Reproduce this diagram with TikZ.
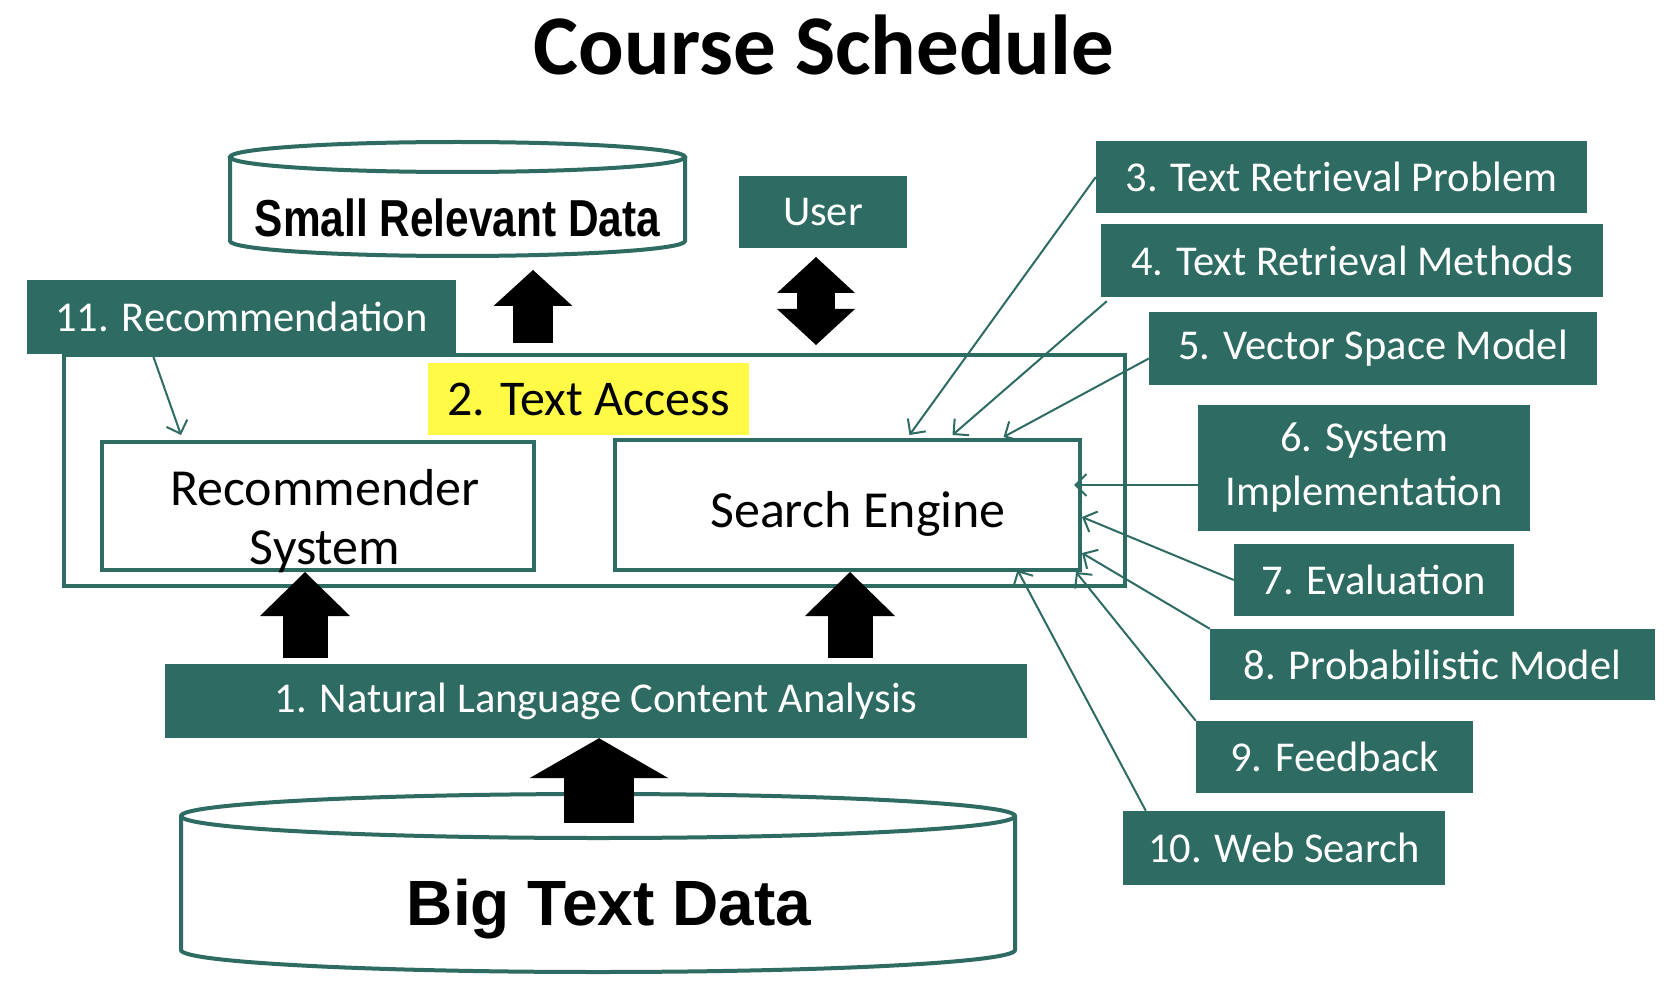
\documentclass[tikz,border=0pt]{standalone}
\usepackage{fontspec}
\setmainfont{Carlito}
\newfontfamily\cylfont[FakeStretch=0.815]{Liberation Sans}
\newfontfamily\bigfont{Liberation Sans}
\usepackage{xcolor}
\usetikzlibrary{arrows.meta}

\definecolor{slate}{RGB}{46,107,98}
\definecolor{marker}{RGB}{255,250,70}

\begin{document}
\begin{tikzpicture}[
  x=1pt, y=-1pt,
  box/.style={fill=slate, text=white, inner sep=0pt, align=center,
    font=\fontsize{42.5}{54}\selectfont},
  frame/.style={draw=slate, line width=4pt, fill=white},
  inner/.style={inner sep=0pt, font=\fontsize{52}{59}\selectfont},
  link/.style={draw=slate, line width=2pt, -{Straight Barb[length=11pt,width=22pt]}},
  fat/.style n args={3}{line width=#1pt,
    -{Triangle[length=#3pt,width=#2pt,line width=0pt]}},
  fatboth/.style n args={3}{line width=#1pt,
    {Triangle[length=#3pt,width=#2pt,line width=0pt]}-{Triangle[length=#3pt,width=#2pt,line width=0pt]}}
]
\fill[white] (0,0) rectangle (1672,981);
\useasboundingbox (0,0) rectangle (1672,981);

\node[anchor=base, font=\fontsize{85}{90}\selectfont\bfseries] (title) at (824,75) {Course Schedule};

% small data store
\draw[frame] (230,157) -- (230,241) arc[start angle=180, end angle=0, x radius=227.5, y radius=15] -- (685,157);
\draw[frame] (457.5,157) ellipse [x radius=227.5, y radius=15];
\node[anchor=base, font=\cylfont\fontsize{52}{56}\selectfont\bfseries] (smalltxt) at (457.5,237) {Small Relevant Data};

\node[box, minimum width=168pt, minimum height=72pt] (user) at (823,212) {User};

% text access block
\node[draw=slate, line width=4pt, minimum width=1061pt, minimum height=231pt] (outer) at (594.5,470.5) {};
\node[box, minimum width=429pt, minimum height=74pt] (rec11) at (241.5,317) {11. Recommendation};
\node[fill=marker, inner sep=0pt, minimum width=321pt, minimum height=72pt,
  font=\fontsize{50}{56}\selectfont] (access) at (588.5,399) {2. Text Access};
\node[frame, minimum width=432pt, minimum height=128pt] (recsys) at (318,506) {};
\node[inner, align=center] (recsystxt) at (325,521) {Recommender\\System};
\node[frame, minimum width=465pt, minimum height=130pt] (search) at (847.5,505) {};
\node[inner, anchor=base] (searchtxt) at (858,527) {Search Engine};

\node[box, minimum width=862pt, minimum height=74pt] (nlca) at (596,701) {1. Natural Language Content Analysis};

% big data store
\draw[frame] (181,816) -- (181,950) arc[start angle=180, end angle=0, x radius=417, y radius=22] -- (1015,816);
\draw[frame] (598,816) ellipse [x radius=417, y radius=22];
\node[anchor=base, font=\bigfont\fontsize{64}{70}\selectfont\bfseries] (bigtxt) at (609,925) {Big Text Data};

% lecture topics
\node[box, minimum width=491pt, minimum height=72pt] (t3) at (1341.5,177) {3. Text Retrieval Problem};
\node[box, minimum width=502pt, minimum height=73pt] (t4) at (1352,260.5) {4. Text Retrieval Methods};
\node[box, minimum width=448pt, minimum height=73pt] (t5) at (1373,348.5) {5. Vector Space Model};
\node[box, minimum width=332pt, minimum height=126pt] (t6) at (1364,468) {6. System\\Implementation};
\node[box, minimum width=280pt, minimum height=72pt] (t7) at (1374,580) {7. Evaluation};
\node[box, minimum width=445pt, minimum height=71pt] (t8) at (1432.5,664.5) {8. Probabilistic Model};
\node[box, minimum width=277pt, minimum height=72pt] (t9) at (1334.5,757) {9. Feedback};
\node[box, minimum width=322pt, minimum height=74pt] (t10) at (1284,848) {10. Web Search};

% block arrows
\coordinate (smallfoot) at (533,343);
\coordinate (smalltip) at (533,270);
\draw[fat={40}{79}{36}] (smallfoot) -- (smalltip);
\coordinate (userfoot) at (816,345);
\coordinate (usertip) at (816,257);
\draw[fatboth={38}{78}{36}] (userfoot) -- (usertip);
\coordinate (recfoot) at (305,658);
\draw[fat={45}{90}{44}] (recfoot) -- (recfoot |- recsys.south);
\coordinate (sefoot) at (850,658);
\draw[fat={45}{90}{44}] (sefoot) -- (sefoot |- search.south);
\coordinate (bigfoot) at (599,823);
\draw[fat={70}{139}{40}] (bigfoot) -- (bigfoot |- nlca.south);

% topic links
\draw[link] ([xshift=-89pt]rec11.south) -- ([xshift=-137pt,yshift=5pt]recsys.north);
\draw[link] (t3.west) -- ([xshift=62pt,yshift=3pt]search.north);
\draw[link] ([xshift=6pt,yshift=-4pt]t4.south west) -- ([xshift=105pt,yshift=3pt]search.north);
\draw[link] ([yshift=-10pt]t5.west) -- ([xshift=156pt,yshift=1pt]search.north);
\draw[link] ([yshift=-17pt]t6.west) -- ([xshift=-8pt,yshift=20pt]search.east);
\draw[link] (t7.west) -- ([yshift=-12pt]search.east);
\draw[link] (t8.north west) -- ([yshift=-48pt]search.east);
\draw[link] (t9.north west) -- ([xshift=-6pt]search.south east);
\draw[link] ([xshift=23pt]t10.north west) -- ([xshift=170pt,yshift=2pt]search.south);
\end{tikzpicture}
\end{document}
